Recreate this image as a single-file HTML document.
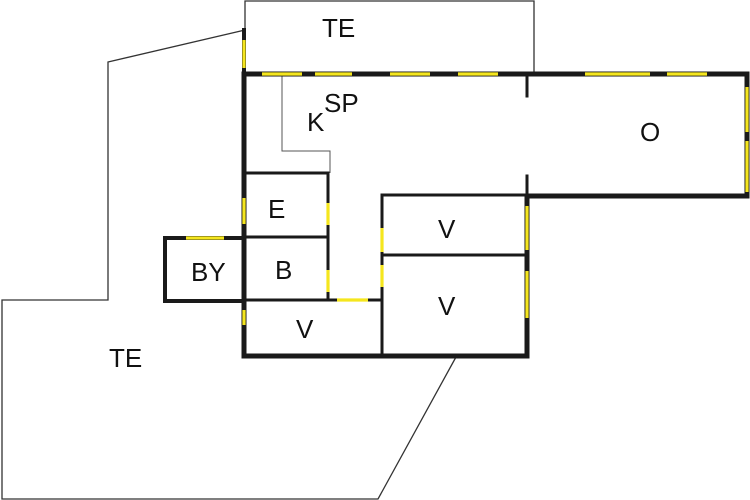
<!DOCTYPE html>
<html><head><meta charset="utf-8"><style>
html,body{margin:0;padding:0;background:#fff;}
svg{display:block;}
text{font-family:"Liberation Sans",sans-serif;font-size:26px;fill:#111;}
</style></head><body>
<svg width="750" height="500" viewBox="0 0 750 500" xmlns="http://www.w3.org/2000/svg">
<g fill="none" stroke="#333" stroke-width="1.3">
<polyline points="245,74 245,1 534,1 534,74"/>
<polyline points="245,30 108,62 108,300 2,300 2,499 378,499 456,357"/>
<polyline points="282,76 282,151 330,151 330,173" stroke="#555" stroke-width="1"/>
</g>
<g stroke="#1a1a1a" stroke-linecap="square" fill="none">
<path stroke-width="5" d="M244,74 H747 V196 H527 V356 H244 Z"/>
<path stroke-width="4" d="M244,30 V74"/>
<path stroke-width="4" d="M165,238 H244 V301 H165 Z"/>
<path stroke-width="3" d="M527,74 V96 M527,176 V196"/>
<path stroke-width="3" d="M244,173 H328 V300 M244,237 H328 M244,300 H382 M382,195 V356 M382,195 H527 M382,255 H527"/>
</g>
<g stroke="#f5e61e" stroke-width="3.2" fill="none">
<path d="M262,74 H302 M315,74 H352 M390,74 H430 M458,74 H498 M585,74 H650 M667,74 H707"/>
<path d="M747,87 V132 M747,141 V192"/>
<path d="M244,40 V68 M244,198 V224 M244,310 V325"/>
<path d="M328,203 V225 M328,270 V292"/>
<path d="M186,238 H224 M337,300 H368"/>
<path d="M382,228 V252 M382,265 V287"/>
<path d="M527,206 V250 M527,271 V318"/>
</g>
<text x="322" y="37">TE</text>
<text x="324" y="112">SP</text>
<text x="307" y="131">K</text>
<text x="640" y="141">O</text>
<text x="268" y="218">E</text>
<text x="438" y="238">V</text>
<text x="191" y="281" font-size="22">BY</text>
<text x="275" y="279">B</text>
<text x="438" y="315">V</text>
<text x="296" y="338">V</text>
<text x="109" y="367">TE</text>
</svg>
</body></html>
